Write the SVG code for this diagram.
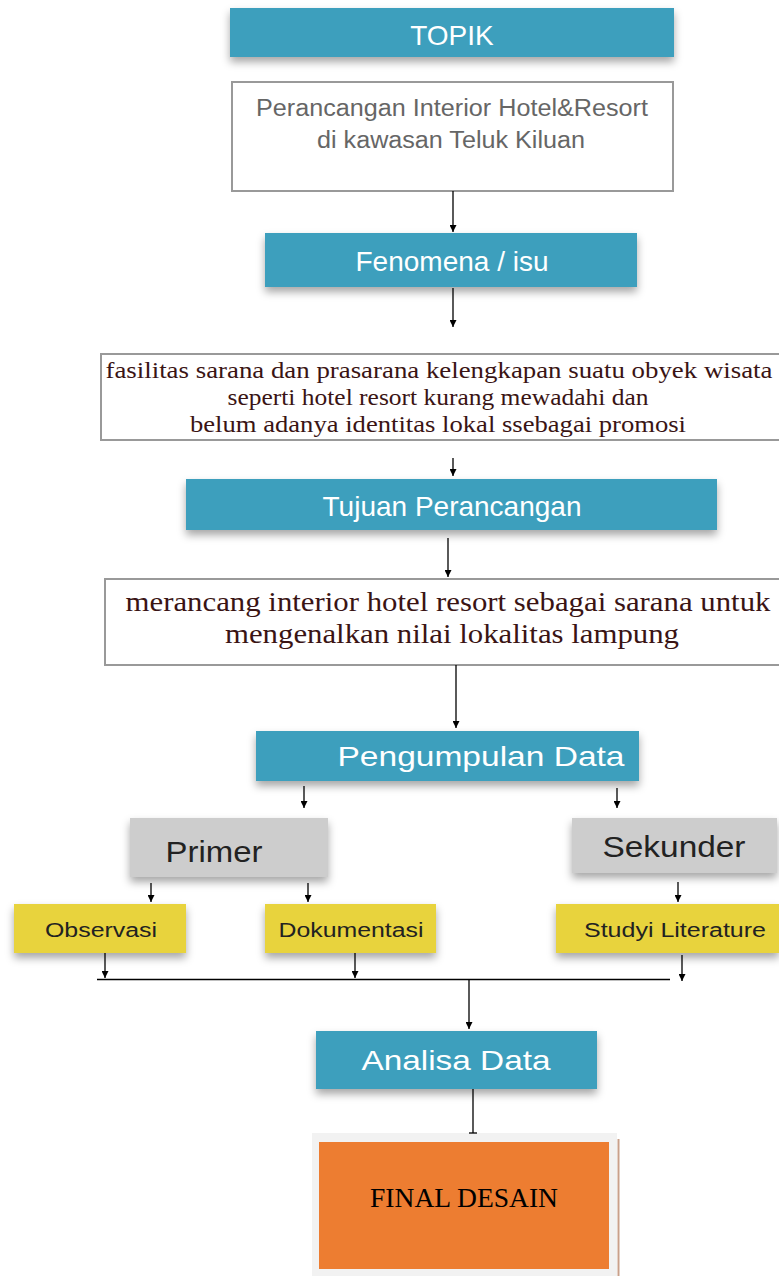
<svg xmlns="http://www.w3.org/2000/svg" width="779" height="1276" viewBox="0 0 779 1276">
<defs>
<filter id="sh" x="-10%" y="-20%" width="120%" height="170%">
<feDropShadow dx="0" dy="5" stdDeviation="4" flood-color="#000" flood-opacity="0.35"/>
</filter>
<marker id="ah" viewBox="0 0 10 10" refX="10" refY="5" markerWidth="7" markerHeight="7" markerUnits="userSpaceOnUse" orient="auto">
<path d="M0,0 L10,5 L0,10 z" fill="#000"/>
</marker>
</defs>
<style>
.teal{fill:#3c9fbd;filter:url(#sh)}
.grey{fill:#cdcdcd;filter:url(#sh)}
.yel{fill:#e8d33c;filter:url(#sh)}
.wbox{fill:#fff;stroke:#999;stroke-width:2}
.wt{font-family:"Liberation Sans",Arial,sans-serif;fill:#fff;font-size:28px;text-anchor:middle}
.gt{font-family:"Liberation Sans",Arial,sans-serif;fill:#666;font-size:23px;text-anchor:middle}
.st{font-family:"Liberation Serif","Times New Roman",serif;fill:#3a1414;text-anchor:middle}
.dt{font-family:"Liberation Sans",Arial,sans-serif;fill:#222;text-anchor:middle}
.c line{stroke:#000;stroke-width:1.3}
.c .a{marker-end:url(#ah)}
</style>
<rect width="779" height="1276" fill="#fff"/>

<g id="topik">
<rect class="teal" x="230" y="8" width="444" height="49"/>
<text class="wt" x="452" y="45">TOPIK</text>
</g>
<g id="topik-isi">
<rect class="wbox" x="232" y="82" width="441" height="109"/>
<text class="gt" x="452" y="116" textLength="392" lengthAdjust="spacingAndGlyphs">Perancangan Interior Hotel&amp;Resort</text>
<text class="gt" x="451" y="148" textLength="268" lengthAdjust="spacingAndGlyphs">di kawasan Teluk Kiluan</text>
</g>
<g id="fenomena">
<rect class="teal" x="265" y="233" width="372" height="54"/>
<text class="wt" x="452" y="271" font-size="27">Fenomena / isu</text>
</g>
<g id="fenomena-isi">
<rect class="wbox" x="101" y="354" width="686" height="86"/>
<text class="st" x="439" y="378" font-size="23.5" textLength="667" lengthAdjust="spacingAndGlyphs">fasilitas sarana dan prasarana kelengkapan suatu obyek wisata</text>
<text class="st" x="438" y="405" font-size="23.5" textLength="421" lengthAdjust="spacingAndGlyphs">seperti hotel resort kurang mewadahi dan</text>
<text class="st" x="438" y="432" font-size="23.5" textLength="496" lengthAdjust="spacingAndGlyphs">belum adanya identitas lokal ssebagai promosi</text>
</g>
<g id="tujuan">
<rect class="teal" x="186" y="479" width="531" height="51"/>
<text class="wt" x="452" y="516">Tujuan Perancangan</text>
</g>
<g id="tujuan-isi">
<rect class="wbox" x="105" y="579" width="682" height="86"/>
<text class="st" x="448" y="611" font-size="27" textLength="645" lengthAdjust="spacingAndGlyphs">merancang interior hotel resort sebagai sarana untuk</text>
<text class="st" x="452" y="643" font-size="27" textLength="454" lengthAdjust="spacingAndGlyphs">mengenalkan nilai lokalitas lampung</text>
</g>
<g id="pengumpulan">
<rect class="teal" x="256" y="731" width="383" height="50"/>
<text class="wt" x="481" y="766" textLength="287" lengthAdjust="spacingAndGlyphs">Pengumpulan Data</text>
</g>
<g id="primer">
<rect class="grey" x="130" y="818" width="198" height="59"/>
<text class="dt" x="214" y="862" font-size="30" textLength="97" lengthAdjust="spacingAndGlyphs">Primer</text>
</g>
<g id="sekunder">
<rect class="grey" x="572" y="818" width="205" height="55"/>
<text class="dt" x="674" y="857" font-size="30" textLength="143" lengthAdjust="spacingAndGlyphs">Sekunder</text>
</g>
<g id="observasi">
<rect class="yel" x="14" y="904" width="172" height="49"/>
<text class="dt" x="101" y="937" font-size="20" textLength="112" lengthAdjust="spacingAndGlyphs">Observasi</text>
</g>
<g id="dokumentasi">
<rect class="yel" x="265" y="904" width="171" height="49"/>
<text class="dt" x="351" y="937" font-size="20" textLength="145" lengthAdjust="spacingAndGlyphs">Dokumentasi</text>
</g>
<g id="studyi">
<rect class="yel" x="556" y="904" width="223" height="49"/>
<text class="dt" x="675" y="937" font-size="20" textLength="182" lengthAdjust="spacingAndGlyphs">Studyi Literature</text>
</g>
<g id="analisa">
<rect class="teal" x="316" y="1031" width="281" height="58"/>
<text class="wt" x="456" y="1070" textLength="189" lengthAdjust="spacingAndGlyphs">Analisa Data</text>
</g>
<g id="final">
<rect x="312" y="1133" width="305" height="143" fill="#f2f2f2"/>
<rect x="319" y="1142" width="290" height="127" fill="#ed7d31"/>
<line x1="618.5" y1="1139" x2="618.5" y2="1276" stroke="#c9a08a" stroke-width="2"/>
<text x="464" y="1207" font-family="'Liberation Serif','Times New Roman',serif" font-size="27" fill="#000" text-anchor="middle" textLength="188" lengthAdjust="spacingAndGlyphs">FINAL DESAIN</text>
</g>

<g id="connectors" class="c">
<line class="a" x1="453" y1="191" x2="453" y2="232"/>
<line class="a" x1="453" y1="288" x2="453" y2="327"/>
<line class="a" x1="453" y1="458" x2="453" y2="476"/>
<line class="a" x1="448" y1="538" x2="448" y2="577"/>
<line class="a" x1="456" y1="665" x2="456" y2="728"/>
<line class="a" x1="304" y1="786" x2="304" y2="808"/>
<line class="a" x1="617" y1="788" x2="617" y2="808"/>
<line class="a" x1="151" y1="883" x2="151" y2="902"/>
<line class="a" x1="308" y1="883" x2="308" y2="902"/>
<line class="a" x1="678" y1="882" x2="678" y2="902"/>
<line class="a" x1="105" y1="953" x2="105" y2="978"/>
<line class="a" x1="355" y1="953" x2="355" y2="978"/>
<line class="a" x1="682" y1="955" x2="682" y2="981"/>
<line x1="97" y1="979.5" x2="670" y2="979.5"/>
<line class="a" x1="469" y1="980" x2="469" y2="1029"/>
<line x1="473" y1="1089" x2="473" y2="1133"/>
<line x1="469" y1="1133" x2="477" y2="1133"/>
</g>
</svg>
